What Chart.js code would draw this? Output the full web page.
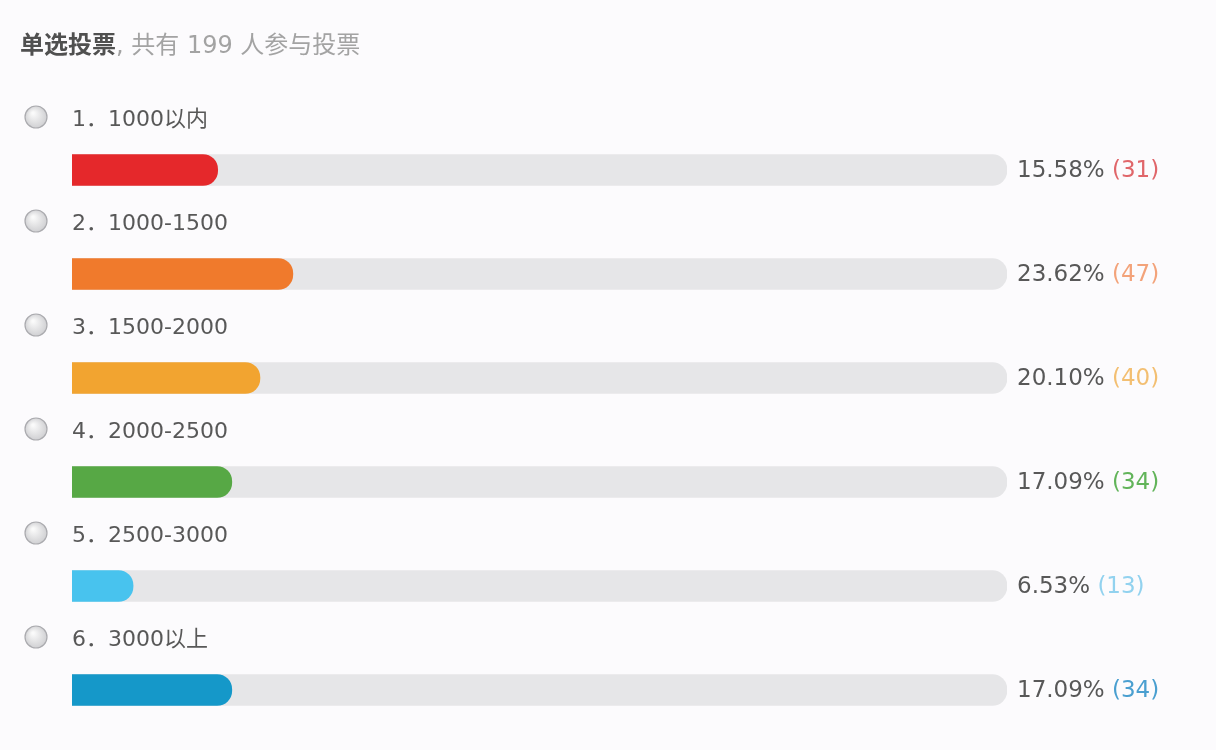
<!DOCTYPE html>
<html>
<head>
<meta charset="utf-8">
<script src="https://cdn.jsdelivr.net/npm/chart.js@4"></script>
<style>
  html, body { margin: 0; padding: 0; background: #fcfbfd; }
  #wrap { width: 1216px; height: 750px; }
</style>
</head>
<body>
<div id="wrap"><canvas id="poll" width="1216" height="750"></canvas></div>
<script>
const categories = ['1000以内', '1000-1500', '1500-2000', '2000-2500', '2500-3000', '3000以上'];
const percents = [15.58, 23.62, 20.10, 17.09, 6.53, 17.09];
const counts = [31, 47, 40, 34, 13, 34];
const totalVotes = 199;

const barColors = ['#e5282b', '#f07a2c', '#f2a430', '#57a845', '#48c3ee', '#1598c9'];
const countColors = ['#e0666a', '#f3a37a', '#f3bf72', '#62b45a', '#92d2ef', '#4a9fd0'];

const FONT = '"DejaVu Sans", "Noto Sans CJK SC", sans-serif';

// titles, radios, option names and result text drawn around the bars
const pollText = {
  id: 'pollText',
  afterDraw(chart) {
    const ctx = chart.ctx;
    const y = chart.scales.y;
    const x = chart.scales.x;
    ctx.save();
    ctx.textBaseline = 'middle';

    ctx.font = 'bold 24px ' + FONT;
    ctx.fillStyle = '#505050';
    ctx.fillText('单选投票', 20, 47);
    let w = ctx.measureText('单选投票').width;
    ctx.font = '24px ' + FONT;
    ctx.fillStyle = '#a3a3a3';
    ctx.fillText(', 共有 ' + totalVotes + ' 人参与投票', 20 + w, 47);

    categories.forEach((c, i) => {
      const cy = y.getPixelForValue(i);

      // radio button
      const ry = cy - 53;
      const g = ctx.createRadialGradient(33, ry - 4, 1, 36, ry, 12);
      g.addColorStop(0, '#fafafa');
      g.addColorStop(1, '#cdcdd0');
      ctx.beginPath();
      ctx.arc(36, ry, 11, 0, Math.PI * 2);
      ctx.fillStyle = g;
      ctx.fill();
      ctx.lineWidth = 1.2;
      ctx.strokeStyle = '#ababaf';
      ctx.stroke();

      ctx.font = '22px ' + FONT;
      ctx.fillStyle = '#585858';
      ctx.fillText((i + 1) + '．' + c, x.left, cy - 50);

      ctx.font = '23px ' + FONT;
      const pct = percents[i].toFixed(2) + '% ';
      const tx = x.right + 10;
      ctx.fillStyle = '#585858';
      ctx.fillText(pct, tx, cy + 1);
      const pw = ctx.measureText(pct).width;
      ctx.fillStyle = countColors[i];
      ctx.fillText('(' + counts[i] + ')', tx + pw, cy + 1);
    });
    ctx.restore();
  }
};

new Chart(document.getElementById('poll'), {
  type: 'bar',
  data: {
    labels: categories,
    datasets: [
      {
        label: 'votes',
        data: percents,
        backgroundColor: barColors,
        borderRadius: 15,
        barThickness: 31,
        grouped: false,
        order: 0
      },
      {
        label: 'track',
        data: categories.map(() => 100),
        backgroundColor: '#e6e6e8',
        borderRadius: 15,
        barThickness: 31,
        grouped: false,
        order: 1
      }
    ]
  },
  options: {
    indexAxis: 'y',
    responsive: false,
    animation: false,
    devicePixelRatio: 1,
    layout: { padding: { left: 72, right: 209, top: 118, bottom: 8 } },
    scales: {
      x: { display: false, min: 0, max: 100 },
      y: { display: false }
    },
    plugins: {
      legend: { display: false },
      tooltip: { enabled: false }
    }
  },
  plugins: [pollText]
});
</script>
</body>
</html>
